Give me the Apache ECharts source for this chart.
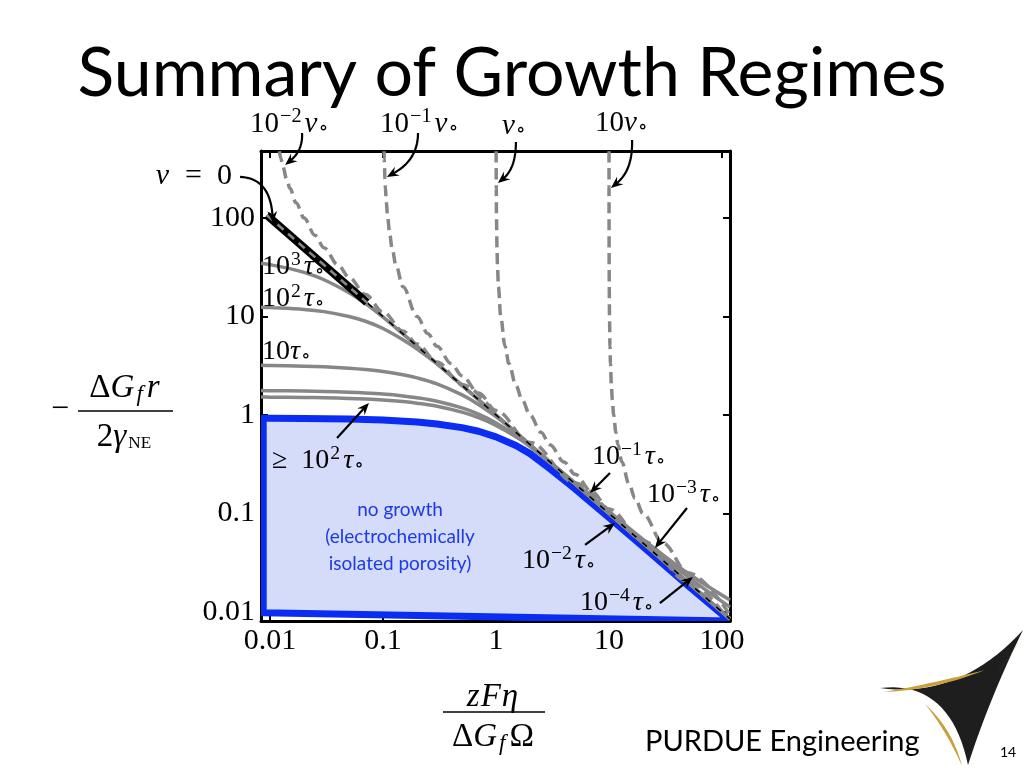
<!DOCTYPE html>
<html><head><meta charset="utf-8">
<script src="https://cdn.jsdelivr.net/npm/echarts@6/dist/echarts.min.js"></script>
<style>html,body{margin:0;padding:0;background:#fff}#c{width:1024px;height:768px}</style>
</head><body><div id="c"></div>
<script>
// ---- tick labels ----
const xTickLabels = ['0.01','0.1','1','10','100'];
const yTickLabels = ['0.01','0.1','1','10','100'];

// ---- v = 0 boundary (black line) ----
const vZeroLine = [[0.0094,106.4],[117.7,0.0085]];
const vZeroThick = [[0.0094,106.4],[0.072,13.9]];

// ---- constant-time curves (gray solid) ----
const tau1000 = [[0.00832,34.7],[0.01,33.6],[0.015,30.6],[0.02,28.0],[0.03,23.6],[0.05,17.4],[0.07,13.5],[0.1,9.83],[0.15,6.65],[0.2,5.0],[0.3,3.33],[0.5,2.0],[1,1],[3,0.333],[10,0.1],[30,0.0333],[117.7,0.0085]];
const tau100 = [[0.00832,12.4],[0.01,12.3],[0.02,11.8],[0.03,11.2],[0.05,10.0],[0.07,8.95],[0.1,7.55],[0.15,5.8],[0.2,4.67],[0.3,3.3],[0.5,2.0],[0.7,1.43],[1,1],[3,0.333],[10,0.1],[30,0.0333],[117.7,0.0085]];
const tau10 = [[0.00832,3.19],[0.01,3.18],[0.02,3.13],[0.03,3.08],[0.05,2.98],[0.07,2.89],[0.1,2.76],[0.15,2.56],[0.2,2.38],[0.3,2.07],[0.5,1.60],[0.7,1.28],[1,0.96],[1.5,0.661],[2,0.499],[3,0.333],[10,0.1],[30,0.0333],[117.7,0.0085]];
const tau1 = [[0.00832,1.77],[0.01,1.764],[0.02,1.749],[0.03,1.733],[0.05,1.703],[0.07,1.674],[0.1,1.631],[0.15,1.562],[0.2,1.498],[0.3,1.379],[0.5,1.179],[0.7,1.018],[1,0.831],[1.5,0.62],[2,0.486],[3,0.332],[5,0.205],[10,0.105],[20,0.0547],[50,0.0247],[117.7,0.0132]];
const tauLow = [[0.00832,1.52],[0.01,1.518],[0.02,1.507],[0.03,1.495],[0.05,1.473],[0.07,1.451],[0.1,1.419],[0.15,1.367],[0.2,1.318],[0.3,1.227],[0.5,1.069],[0.7,0.939],[1,0.784],[1.5,0.60],[2,0.477],[3,0.330],[5,0.2027],[10,0.1027],[20,0.0527],[50,0.0227],[117.7,0.0112]];

// ---- constant-velocity curves (gray dashed) ----
const velo001 = [[0.0121,476],[0.0125,400],[0.013,333],[0.014,250],[0.015,200],[0.017,143],[0.02,100],[0.025,66.7],[0.03,50],[0.04,33.3],[0.05,25],[0.07,16.7],[0.1,11.1],[0.15,7.14],[0.2,5.26],[0.3,3.45],[0.5,2.04],[1,1.01]];
const velo01 = [[0.1021,476],[0.1025,400],[0.103,333],[0.104,250],[0.105,200],[0.107,143],[0.11,100],[0.115,66.7],[0.12,50],[0.13,33.3],[0.15,20],[0.2,10],[0.25,6.67],[0.3,5],[0.4,3.33],[0.5,2.5],[0.7,1.67],[1,1.11],[2,0.526],[5,0.204],[10,0.101]];
const velo1 = [[1.0021,476],[1.003,333],[1.005,200],[1.01,100],[1.02,50],[1.03,33.3],[1.05,20],[1.1,10],[1.2,5],[1.3,3.33],[1.5,2],[1.7,1.43],[2,1],[2.5,0.667],[3,0.5],[4,0.333],[5,0.25],[7,0.167],[10,0.111],[20,0.0526],[50,0.0204],[100,0.0101]];
const velo10 = [[10.0021,476],[10.003,333],[10.005,200],[10.01,100],[10.02,50],[10.03,33.3],[10.05,20],[10.1,10],[10.2,5],[10.3,3.33],[10.5,2],[10.7,1.43],[11,1],[11.5,0.667],[12,0.5],[13,0.333],[15,0.2],[17,0.143],[20,0.1],[30,0.05],[50,0.025],[117.7,0.00929]];

// ---- no-growth region (blue) ----
const noGrowth = [[0.0087,0.0098],[0.0087,0.926],[0.01,0.926],[0.02,0.921],[0.05,0.909],[0.1,0.888],[0.2,0.849],[0.3,0.811],[0.5,0.744],[0.7,0.684],[1,0.6],[1.5,0.49],[2,0.405],[3,0.285],[5,0.178],[7,0.128],[10,0.091],[20,0.046],[50,0.0185],[117.7,0.0081],[0.0087,0.0098]];

// ---- annotation arrows (data coords) ----
const arrowDefs = [
  {tail:[0.0192,729], ctrl:[0.0196,490], head:[0.0136,345]},
  {tail:[0.204,729], ctrl:[0.204,388], head:[0.108,261]},
  {tail:[1.50,591], ctrl:[1.50,322], head:[1.04,226]},
  {tail:[16.0,619], ctrl:[16.3,307], head:[10.4,202]},
  {tail:[0.00543,261], ctrl:[0.0100,255], head:[0.01063,88.9]},
  {tail:[0.0392,0.584], head:[0.0751,1.324]},
  {tail:[10.2,0.258], head:[6.79,0.161]},
  {tail:[49.0,0.1137], head:[25.5,0.0447]},
  {tail:[6.14,0.0479], head:[11.3,0.0802]},
  {tail:[28.2,0.01233], head:[55.3,0.0227]}
];

const X_MIN = 0.00832, X_MAX = 117.7, Y_MIN = 0.0081, Y_MAX = 478.6;
const SERIF = "'Liberation Serif','DejaVu Serif',serif";
const SANS = "Lato,'Open Sans',sans-serif";
const GRAY = '#878787';

const chart = echarts.init(document.getElementById('c'), null, {renderer:'canvas', width:1024, height:768});

function fmt(labels){
  return function(v){
    const l = Math.log10(v), e = Math.round(l);
    if (Math.abs(l - e) > 0.01) return '';
    return labels[e + 2] || '';
  };
}
function axis(pos, isX, showLabel){
  return {
    type:'log', logBase:10, position:pos,
    min: isX ? X_MIN : Y_MIN, max: isX ? X_MAX : Y_MAX,
    axisLine:{show:true, onZero:false, lineStyle:{color:'#000', width:3}},
    axisTick:{show:true, inside:true, length:7, lineStyle:{color:'#000', width:2}},
    splitLine:{show:false}, minorTick:{show:false}, minorSplitLine:{show:false},
    axisLabel:{show:showLabel, formatter: fmt(isX ? xTickLabels : yTickLabels), fontFamily:SERIF, fontSize:30, color:'#000',
      margin: isX ? 5 : 6, showMinLabel:false, showMaxLabel:false}
  };
}
function line(data, style, extra){
  return Object.assign({type:'line', data, symbol:'none', silent:true, animation:false, smooth:0.35,
    lineStyle:style, z:2}, extra || {});
}
const solidStyle = {color:GRAY, width:3.5};
const dashStyle = {color:GRAY, width:3.5, type:[11,6]};

chart.setOption({
  animation:false,
  grid:{left:261, top:151, width:469, height:470, containLabel:false},
  xAxis:[axis('bottom', true, true), axis('top', true, false)],
  yAxis:[axis('left', false, true), axis('right', false, false)],
  series:[
    {type:'custom', silent:true, clip:true, z:1, data:[[1,1]],
      renderItem:function(params, api){
        const pts = noGrowth.map(p => api.coord(p));
        return {type:'polygon', shape:{points:pts}, style:{fill:'#d5dcf9', stroke:'#0b2cf2', lineWidth:7, lineJoin:'round'}};
      }},
    line(tau1000, solidStyle), line(tau100, solidStyle), line(tau10, solidStyle), line(tau1, solidStyle), line(tauLow, solidStyle),
    line(velo001, dashStyle, {smoothMonotone:'x'}), line(velo01, dashStyle, {smoothMonotone:'x'}),
    line(velo1, dashStyle, {smoothMonotone:'x'}), line(velo10, dashStyle, {smoothMonotone:'x'}),
    line(vZeroLine, {color:'#000', width:1.5}, {smooth:false}),
    line(vZeroThick, {color:'#000', width:8}, {smooth:false}),
    line(vZeroLine, {color:GRAY, width:2.6, type:[8,6]}, {smooth:false})
  ]
});

// ---- math text helper ----
const KINDS = {
  r:{s:1, dy:0, it:false, pl:0, pr:0}, i:{s:1, dy:0, it:true, pl:0, pr:1},
  sp:{s:0.7, dy:-0.25, it:false, pl:1, pr:3},
  sb:{s:0.7, dy:0.17, it:false, pl:0, pr:0}, sbi:{s:0.7, dy:0.2, it:true, pl:1, pr:4},
  sbs:{s:0.52, dy:0.2, it:false, pl:1, pr:0}
};
function math(parts, size, x, yc, align){
  const C = 0.65*size, rich = {};
  let text = '';
  parts.forEach(([t,k]) => {
    const K = KINDS[k], f = K.s*size;
    if (!rich[k]) rich[k] = {fontFamily:SERIF, fontSize:f, fontStyle:K.it?'italic':'normal', lineHeight:f,
      verticalAlign:'top', padding:[Math.max(0, C + K.dy*size - f/2), K.pr, 0, K.pl], fill:'#000'};
    text += '{' + k + '|' + t + '}';
  });
  return {type:'text', silent:true, z:100, x:x, y:yc - C,
    style:{text, rich, align:align || 'left', verticalAlign:'top', fill:'#000'}};
}
function quad(p0, c, p1, n){
  const out = [];
  for (let i = 0; i <= n; i++){
    const t = i/n, u = 1-t;
    out.push([u*u*p0[0] + 2*u*t*c[0] + t*t*p1[0], u*u*p0[1] + 2*u*t*c[1] + t*t*p1[1]]);
  }
  return out;
}
function shape(segs){ let pts = []; segs.forEach(s => { pts = pts.concat(quad(s[0], s[1], s[2], 20)); }); return pts; }

const g = [];
// title
g.push({type:'text', silent:true, x:512, y:74, style:{text:'Summary of Growth Regimes', fontFamily:SANS, fontSize:68, fill:'#000', align:'center', verticalAlign:'middle'}});
// velocity labels
g.push(math([['10','r'],['−2','sp'],['v','i'],['∘','sb']], 29, 250, 124));
g.push(math([['10','r'],['−1','sp'],['v','i'],['∘','sb']], 29, 380, 124));
g.push(math([['v','i'],['∘','sb']], 29, 502, 126));
g.push(math([['10','r'],['v','i'],['∘','sb']], 29, 595, 123));
g.push(math([['v','i'],['  =  0','r']], 30, 232, 176, 'right'));
// time labels
g.push(math([['10','r'],['3','sp'],['τ','i'],['∘','sb']], 28, 262, 267));
g.push(math([['10','r'],['2','sp'],['τ','i'],['∘','sb']], 28, 262, 299));
g.push(math([['10','r'],['τ','i'],['∘','sb']], 28, 262, 352));
g.push(math([['≥  10','r'],['2','sp'],['τ','i'],['∘','sb']], 28, 272, 461));
g.push(math([['10','r'],['−1','sp'],['τ','i'],['∘','sb']], 28, 592, 457));
g.push(math([['10','r'],['−3','sp'],['τ','i'],['∘','sb']], 28, 647, 495));
g.push(math([['10','r'],['−2','sp'],['τ','i'],['∘','sb']], 28, 522, 561));
g.push(math([['10','r'],['−4','sp'],['τ','i'],['∘','sb']], 28, 580, 603));
// blue note
g.push({type:'text', silent:true, z:100, x:400, y:537, style:{text:'no growth\n(electrochemically\nisolated porosity)', fontFamily:SANS, fontSize:19, lineHeight:27, fill:'#1b3be6', align:'center', verticalAlign:'middle'}});
// y-axis title
g.push({type:'text', silent:true, x:60, y:410, style:{text:'−', fontFamily:SERIF, fontSize:32, fill:'#000', align:'center', verticalAlign:'middle'}});
g.push(math([['Δ','r'],['G','i'],['f','sbi'],['r','i']], 33, 125, 388, 'center'));
g.push({type:'line', silent:true, shape:{x1:78, y1:411, x2:173, y2:411}, style:{stroke:'#000', lineWidth:1.5}});
g.push(math([['2','r'],['γ','i'],['NE','sbs']], 33, 124, 437, 'center'));
// x-axis title
g.push(math([['z','i'],['F','i'],['η','i']], 33, 493, 697, 'center'));
g.push({type:'line', silent:true, shape:{x1:443, y1:712, x2:545, y2:712}, style:{stroke:'#000', lineWidth:1.5}});
g.push(math([['Δ','r'],['G','i'],['f','sbi'],['Ω','r']], 33, 493, 737, 'center'));
// footer
g.push({type:'text', silent:true, x:645, y:742, style:{text:'PURDUE Engineering', fontFamily:SANS, fontSize:29, fill:'#000', align:'left', verticalAlign:'middle'}});
g.push({type:'text', silent:true, x:1008, y:752, style:{text:'14', fontFamily:SANS, fontSize:14, fill:'#000', align:'center', verticalAlign:'middle'}});
// logo
g.push({type:'polygon', silent:true, shape:{points:shape([[[925,704],[952,728],[962,766]],[[962,766],[946,730],[925,704]]])}, style:{fill:'#c9a03c'}});
g.push({type:'polygon', silent:true, shape:{points:shape([[[1023,630],[960,699],[880,688]],[[880,688],[950,680],[968,765]],[[968,765],[990,697],[1023,630]]])}, style:{fill:'#1e1e1e'}});
g.push({type:'polygon', silent:true, shape:{points:shape([[[884,692],[930,684],[985,670]],[[985,670],[935,690],[884,692]]])}, style:{fill:'#c9a03c'}});
g.push({type:'polygon', silent:true, shape:{points:shape([[[1021,638],[1011,656],[998,671]],[[998,671],[1014,652],[1021,638]]])}, style:{fill:'#c9a03c'}});

// arrows
arrowDefs.forEach(a => {
  const t = chart.convertToPixel({gridIndex:0}, a.tail);
  const h = chart.convertToPixel({gridIndex:0}, a.head);
  const c = a.ctrl ? chart.convertToPixel({gridIndex:0}, a.ctrl) : null;
  const from = c || t;
  let dx = h[0]-from[0], dy = h[1]-from[1];
  const len = Math.hypot(dx, dy); dx /= len; dy /= len;
  const L = 12, W = 5;
  const nx = -dy, ny = dx;
  const e = [h[0]-dx*L*0.6, h[1]-dy*L*0.6];
  const pts = c ? quad(t, c, e, 20) : [t, e];
  g.push({type:'polyline', silent:true, z:90, shape:{points:pts}, style:{stroke:'#000', lineWidth:2.2, fill:null}});
  g.push({type:'polygon', silent:true, z:91, shape:{points:[h, [h[0]-dx*L+nx*W, h[1]-dy*L+ny*W], [h[0]-dx*L*0.65, h[1]-dy*L*0.65], [h[0]-dx*L-nx*W, h[1]-dy*L-ny*W]]}, style:{fill:'#000'}});
});
chart.setOption({graphic:g});
</script>
</body></html>
